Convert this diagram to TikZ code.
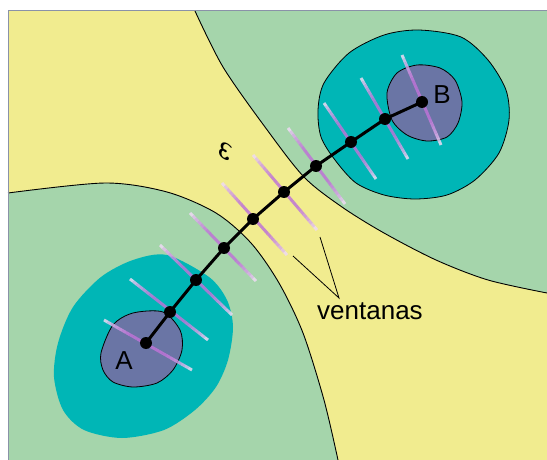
\documentclass[tikz,border=0pt]{standalone}
\usepackage{fontspec}
\setmainfont{Liberation Sans}
\usepackage{bm}
\usetikzlibrary{calc}
\definecolor{yel}{HTML}{F1EC8F}
\definecolor{grn}{HTML}{A5D5AB}
\definecolor{tealc}{HTML}{00B6B6}
\definecolor{blob}{HTML}{6A75A5}
\definecolor{purp}{RGB}{190,115,215}
\definecolor{frame}{HTML}{8A92A8}
\tikzset{
  border/.style={draw=black, line width=0.9pt},
  dot/.style={circle, fill=black, inner sep=0pt, minimum size=12pt},
  pathline/.style={line width=3pt, black},
  lbl/.style={font=\fontsize{26}{30}\selectfont, inner sep=0pt},
  leader/.style={draw=black, line width=0.8pt},
}
\begin{document}
\begin{tikzpicture}[x=1pt,y=-1pt]
\useasboundingbox (0,0) rectangle (547,460);
\fill[white] (0,0) rectangle (547,460);
% background yellow
\fill[yel] (8,11) rectangle (547,460);
% upper right green
\fill[grn] plot[smooth] coordinates {(195,11) (223,67) (265,127) (304,177) (342,207) (384,233) (436,260) (488,280) (547,293)} -- (547,11) -- cycle;
\draw[border] plot[smooth] coordinates {(195,11) (223,67) (265,127) (304,177) (342,207) (384,233) (436,260) (488,280) (547,293)};
% lower left green
\fill[grn] plot[smooth] coordinates {(8,193) (105,183) (167,192) (216,213) (251,243) (279,283) (303,333) (324,400) (338,460)} -- (8,460) -- cycle;
\draw[border] plot[smooth] coordinates {(8,193) (105,183) (167,192) (216,213) (251,243) (279,283) (303,333) (324,400) (338,460)};
% frame
\draw[frame, line width=1pt] (8,460) -- (8,11) -- (547,11);
% teal blobs
\fill[tealc] plot[smooth cycle] coordinates {(167,255) (209,277) (227,300) (233,327) (228,360) (216,387) (195,410) (164,430) (122,438) (84,430) (63,410) (54,377) (58,343) (73,307) (101,277) (133,260)};
\filldraw[fill=tealc, draw=black, line width=0.8pt] plot[smooth cycle] coordinates {(318,110) (324,83) (349,53) (384,35) (419,30) (461,37) (488,60) (506,90) (509,120) (499,153) (475,180) (447,195) (415,199) (384,195) (356,183) (335,160) (321,137)};
% purple blobs
\filldraw[fill=blob, draw=black, line width=0.8pt] plot[smooth cycle] coordinates {(101,353) (113,325) (133,313) (163,312) (180,330) (182,350) (173,370) (157,383) (133,387) (113,382) (103,370)};
\filldraw[fill=blob, draw=black, line width=0.8pt] plot[smooth cycle] coordinates {(387,93) (397,73) (417,65) (440,68) (455,80) (462,102) (458,123) (447,137) (427,141) (407,135) (392,120)};
% windows
\foreach \xa/\ya/\xb/\yb [count=\w] in {104/320/192/370, 130/279/208/340, 160/245/232/315, 190/213/256/281, 222/183/287/255, 253/155/317/230, 288/128/345/204, 324/103/376/179, 361/78/408/159, 402/55/441/145}{
  \coordinate (wa\w) at (\xa,\ya);
  \coordinate (wb\w) at (\xb,\yb);
  \foreach \i in {0,...,23}{
    \pgfmathsetmacro\ta{\i/24}
    \pgfmathsetmacro\tb{(\i+1)/24}
    \pgfmathsetmacro\p{min(100,130*(1-abs(2*(\i+0.5)/24-1))^0.5)}
    \draw[line width=3pt, color=purp!\p!white, opacity=0.85] ($(wa\w)!\ta!(wb\w)$) -- ($(wb\w)!1-\tb!(wa\w)$);
  }
}
% path
\node[dot] (n0) at (146,343) {};
\node[dot] (n1) at (170,312) {};
\node[dot] (n2) at (196,280) {};
\node[dot] (n3) at (224,248) {};
\node[dot] (n4) at (253,219) {};
\node[dot] (n5) at (284,192) {};
\node[dot] (n6) at (316,166) {};
\node[dot] (n7) at (351,142) {};
\node[dot] (n8) at (385,119) {};
\node[dot] (n9) at (422,102) {};
\draw[pathline] (n0.center) -- (n1.center) -- (n2.center) -- (n3.center) -- (n4.center) -- (n5.center) -- (n6.center) -- (n7.center) -- (n8.center) -- (n9.center);
% labels
\node[lbl] (la) at (124,361) {A};
\node[lbl] (lb) at (442,95) {B};
\node[inner sep=0pt, rotate=-105, font=\fontsize{36}{40}\selectfont] (om) at (225,152) {$\bm{\omega}$};
\node[lbl, anchor=base] (vent) at (370,319) {ventanas};
\coordinate (apex) at (339,298);
\coordinate (e1) at (293,256);
\coordinate (e2) at (320,237);
\draw[leader] (e1) -- (apex) -- (e2);
\end{tikzpicture}
\end{document}
